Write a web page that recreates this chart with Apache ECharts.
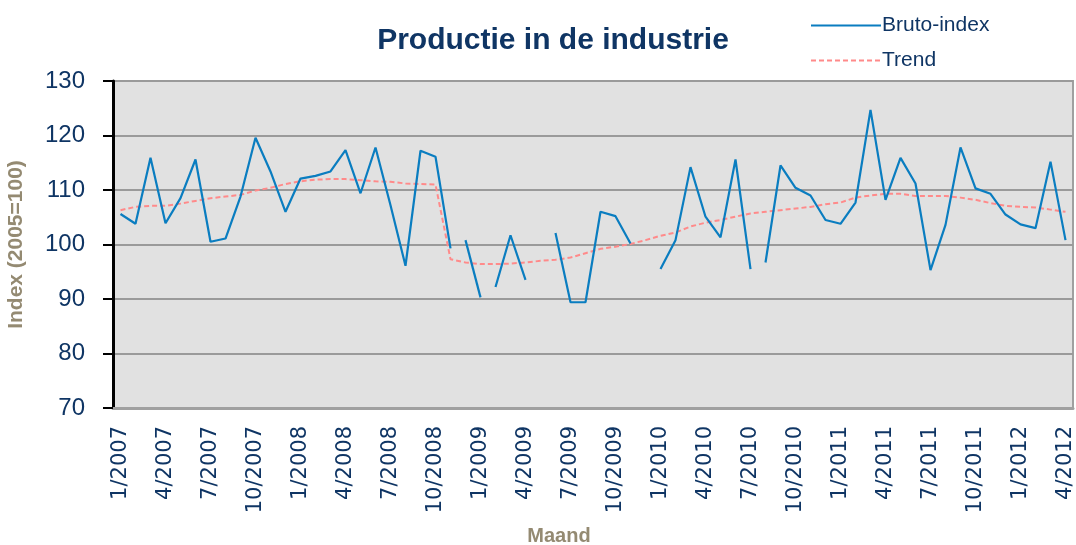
<!DOCTYPE html>
<html>
<head>
<meta charset="utf-8">
<title>Productie in de industrie</title>
<script src="https://cdn.jsdelivr.net/npm/echarts@6/dist/echarts.min.js"></script>
<style>
  html, body { margin: 0; padding: 0; background: #fff; }
  #mainchart { width: 1076px; height: 545px; }
</style>
</head>
<body>
<div id="mainchart"></div>
<script>
// maanden 1/2007 .. 4/2012
var months = [];
for (var y = 2007; y <= 2012; y++) {
    for (var m = 1; m <= 12; m++) {
        if (y === 2012 && m > 4) break;
        months.push(m + '/' + y);
    }
}

var bruto = [
    105.6, 103.8, 115.9, 103.9, 108.5, 115.6, 100.5, 101.1, 108.8, 119.6, 113.4, 106.0,
    112.1, 112.6, 113.4, 117.3, 109.4, 117.8, 107.2, 96.1, 117.2, 116.1, 99.3, 100.8,
    90.3, 92.2, 101.7, 93.5, null, 102.1, 89.4, 89.4, 106.0, 105.2, 100.2, null,
    95.5, 100.8, 114.2, 105.1, 101.3, 115.6, 95.5, 96.7, 114.5, 110.4, 109.0, 104.5,
    103.8, 107.7, 124.7, 108.2, 115.9, 111.2, 95.3, 103.6, 117.8, 110.3, 109.3, 105.5,
    103.7, 103.0, 115.2, 100.8
];

var trend = [
    106.3, 106.9, 107.1, 107.1, 107.5, 108.0, 108.5, 108.8, 109.1, 109.9, 110.4, 111.1,
    111.6, 111.9, 112.0, 112.0, 111.8, 111.6, 111.5, 111.2, 111.1, 111.0, 97.3, 96.7,
    96.4, 96.4, 96.5, 96.7, 97.0, 97.2, 97.6, 98.4, 99.2, 99.6, 100.1, 100.8,
    101.6, 102.2, 103.3, 104.0, 104.5, 105.1, 105.7, 106.0, 106.3, 106.6, 106.9, 107.4,
    107.7, 108.6, 109.0, 109.3, 109.3, 108.9, 108.9, 108.9, 108.6, 108.2, 107.6, 107.1,
    106.9, 106.8, 106.4, 106.0
];

// in het origineel ontbreekt de lijn na deze maanden
var breaks = [22, 24, 42];

var navy = '#0F3564';
var tan = '#948A72';

// bruto-index opknippen in losse stukken
var segments = [];
var start = 0;
breaks.concat([bruto.length - 1]).forEach(function(end) {
    segments.push([start, end]);
    start = end + 1;
});

var series = segments.map(function(seg) {
    return {
        name: 'Bruto-index',
        type: 'line',
        symbol: 'none',
        z: 3,
        lineStyle: { color: '#0A7DC0', width: 2.2 },
        itemStyle: { color: '#0A7DC0' },
        data: bruto.map(function(v, i) {
            return (i >= seg[0] && i <= seg[1]) ? v : null;
        })
    };
});

series.push({
    name: 'Trend',
    type: 'line',
    symbol: 'none',
    z: 2,
    lineStyle: { color: '#FF8A8A', width: 2, type: [5, 3] },
    itemStyle: { color: '#FF8A8A' },
    data: trend
});

var myChart = echarts.init(document.getElementById('mainchart'));

var option = {
    animation: false,
    backgroundColor: '#fff',
    title: {
        text: 'Productie in de industrie',
        left: 548,
        textAlign: 'center',
        top: 21,
        textStyle: { color: navy, fontSize: 30, fontWeight: 'bold', fontFamily: 'Liberation Sans' }
    },
    legend: {
        data: ['Bruto-index', 'Trend'],
        orient: 'vertical',
        left: 805,
        top: 10,
        itemWidth: 70,
        itemHeight: 14,
        itemGap: 14,
        itemStyle: { opacity: 0 },
        textStyle: { color: navy, fontSize: 21, fontFamily: 'Liberation Sans', padding: [0, 0, 0, -4] }
    },
    grid: {
        left: 113,
        right: 3,
        top: 81,
        bottom: 137,
        containLabel: false,
        outerBoundsMode: 'none',
        show: true,
        backgroundColor: '#E1E1E1',
        borderColor: '#A0A0A0',
        borderWidth: 2
    },
    xAxis: {
        type: 'category',
        data: months,
        boundaryGap: true,
        name: 'Maand',
        nameLocation: 'middle',
        nameGap: 118,
        nameTextStyle: { color: tan, fontSize: 20, fontWeight: 'bold', fontFamily: 'Liberation Sans', padding: [0, 68, 0, 0] },
        axisLine: { lineStyle: { color: '#A0A0A0', width: 3 } },
        axisTick: { interval: 0, length: 7, lineStyle: { color: '#A8A8A8', width: 2 } },
        axisLabel: {
            interval: 2,
            rotate: 90,
            margin: 18,
            color: navy,
            fontSize: 21,
            fontFamily: 'DejaVu Sans'
        },
        splitLine: { show: false }
    },
    yAxis: {
        type: 'value',
        min: 70,
        max: 130,
        interval: 10,
        name: 'Index (2005=100)',
        nameLocation: 'middle',
        nameGap: 86,
        nameTextStyle: { color: tan, fontSize: 21, fontWeight: 'bold', fontFamily: 'Liberation Sans' },
        axisLine: { show: true, lineStyle: { color: '#000', width: 3 } },
        axisTick: { show: true, length: 10, lineStyle: { color: '#000', width: 2 } },
        axisLabel: { color: navy, fontSize: 24, fontFamily: 'Liberation Sans', margin: 28 },
        splitLine: { lineStyle: { color: '#9A9A9A', width: 2 } }
    },
    series: series
};

myChart.setOption(option);
</script>
</body>
</html>
